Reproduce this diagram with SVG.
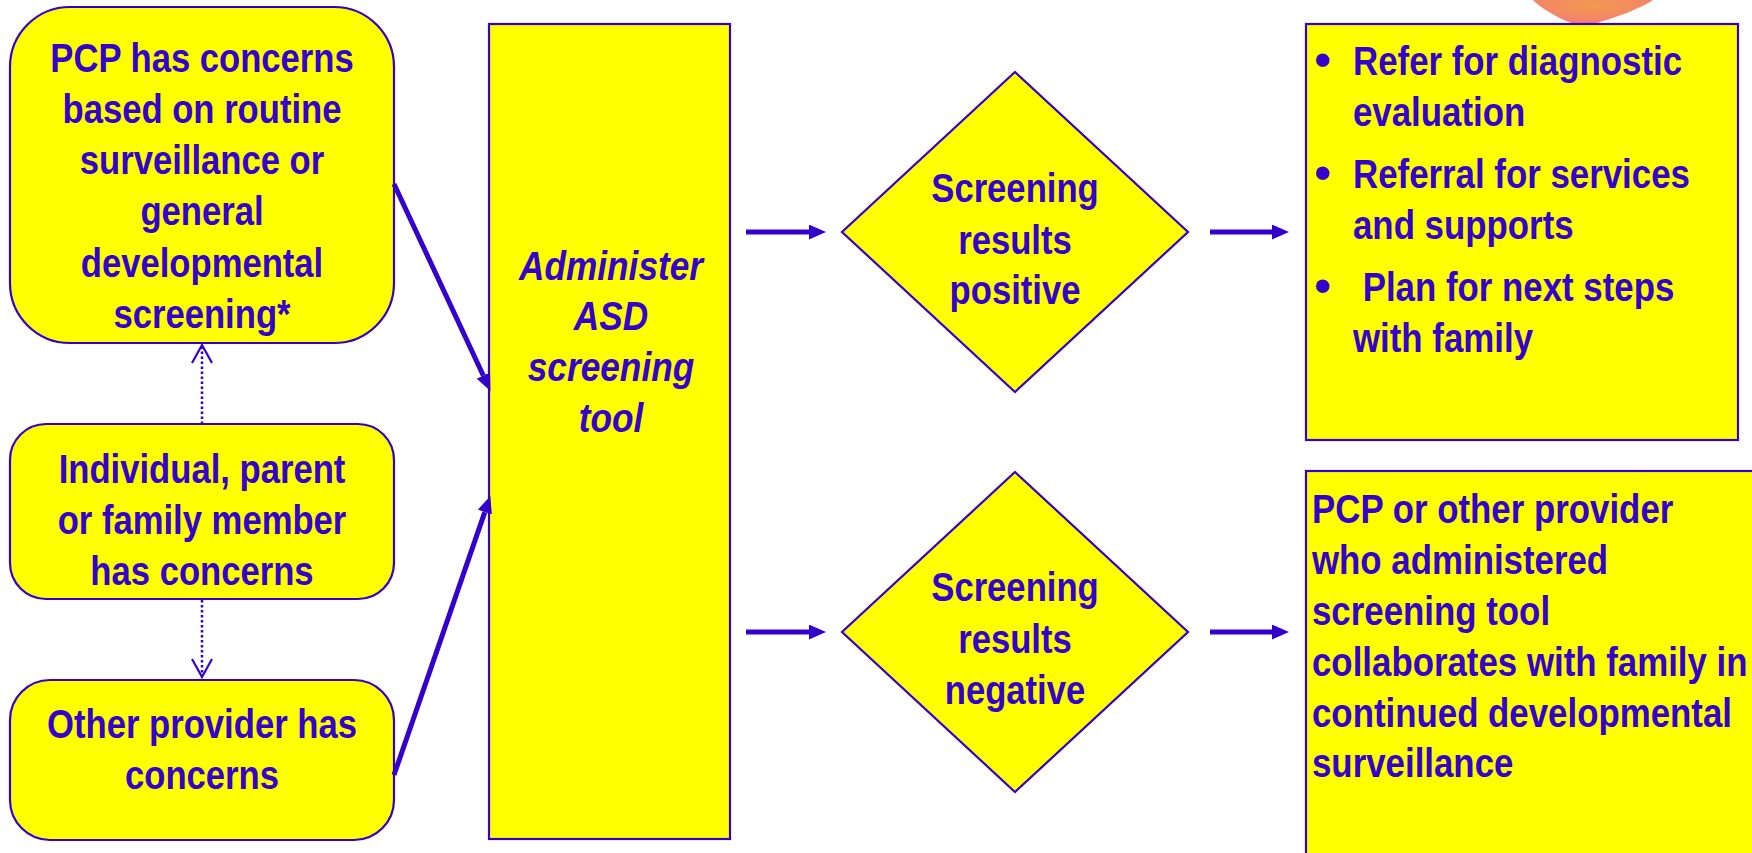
<svg xmlns="http://www.w3.org/2000/svg" width="1752" height="853" viewBox="0 0 1752 853">
<defs>
<style>
.box{fill:#FFFF00;stroke:#3300CC;stroke-width:2.2}
.t{font-family:"Liberation Sans Narrow","Liberation Sans",Arial,sans-serif;font-weight:bold;font-size:41px;fill:#3300CC}
.b{font-family:"Liberation Sans",Arial,sans-serif;font-size:50px;fill:#3300CC}
.c{text-anchor:middle}
.it{font-style:italic}
.conn{stroke:#3300CC;stroke-width:5;fill:none}
.dot{stroke:#3300CC;stroke-width:2.5;fill:none;stroke-dasharray:2.5 2.5}
.open{stroke:#3300CC;stroke-width:2.2;fill:none}
</style>
<marker id="ah" viewBox="0 0 16 14" refX="0" refY="7" markerWidth="17" markerHeight="15" markerUnits="userSpaceOnUse" orient="auto">
<path d="M0,0 L16,7 L0,14 z" fill="#3300CC"/>
</marker>
<radialGradient id="blob" cx="0.5" cy="0.2" r="0.7">
<stop offset="0" stop-color="#F29A50"/>
<stop offset="1" stop-color="#F47C72"/>
</radialGradient>
</defs>
<rect width="1752" height="853" fill="#FFFFFF"/>
<path d="M1533,0 C1542,10 1566,22 1582,27 C1610,20 1640,9 1653,0 Z" fill="url(#blob)"/>

<g id="pcp">
<rect class="box" x="10" y="7" width="384" height="336" rx="60" ry="60"/>
<g transform="matrix(0.845 0 0 1 202 0)">
<text class="t c" x="0" y="72">PCP has concerns</text>
<text class="t c" x="0" y="123">based on routine</text>
<text class="t c" x="0" y="174">surveillance or</text>
<text class="t c" x="0" y="225">general</text>
<text class="t c" x="0" y="277">developmental</text>
<text class="t c" x="0" y="328">screening*</text>
</g>
</g>
<g id="individual">
<rect class="box" x="10" y="424" width="384" height="175" rx="36" ry="36"/>
<g transform="matrix(0.845 0 0 1 202 0)">
<text class="t c" x="0" y="483">Individual, parent</text>
<text class="t c" x="0" y="534">or family member</text>
<text class="t c" x="0" y="585">has concerns</text>
</g>
</g>
<g id="other">
<rect class="box" x="10" y="680" width="384" height="160" rx="40" ry="40"/>
<g transform="matrix(0.845 0 0 1 202 0)">
<text class="t c" x="0" y="738">Other provider has</text>
<text class="t c" x="0" y="789">concerns</text>
</g>
</g>
<g id="administer">
<rect class="box" x="489" y="24" width="241" height="815"/>
<g transform="matrix(0.86 0 0 1 611 0)">
<text class="t c it" x="0" y="280">Administer</text>
<text class="t c it" x="0" y="330">ASD</text>
<text class="t c it" x="0" y="381">screening</text>
<text class="t c it" x="0" y="432">tool</text>
</g>
</g>
<g id="positive">
<polygon class="box" points="1015,72 1188,232 1015,392 842,232"/>
<g transform="matrix(0.845 0 0 1 1015 0)">
<text class="t c" x="0" y="202">Screening</text>
<text class="t c" x="0" y="254">results</text>
<text class="t c" x="0" y="304">positive</text>
</g>
</g>
<g id="negative">
<polygon class="box" points="1015,472 1188,632 1015,792 842,632"/>
<g transform="matrix(0.845 0 0 1 1015 0)">
<text class="t c" x="0" y="601">Screening</text>
<text class="t c" x="0" y="653">results</text>
<text class="t c" x="0" y="704">negative</text>
</g>
</g>
<g id="refer">
<rect class="box" x="1306" y="24" width="432" height="416"/>
<text class="b" x="1314" y="77">•</text>
<text class="b" x="1314" y="190">•</text>
<text class="b" x="1314" y="303">•</text>
<g transform="matrix(0.85 0 0 1 1353 0)">
<text class="t" x="0" y="75">Refer for diagnostic</text>
<text class="t" x="0" y="126">evaluation</text>
<text class="t" x="0" y="188">Referral for services</text>
<text class="t" x="0" y="239">and supports</text>
<text class="t" x="0" y="301" xml:space="preserve"> Plan for next steps</text>
<text class="t" x="0" y="352">with family</text>
</g>
</g>
<g id="collaborate">
<rect class="box" x="1306" y="471" width="460" height="400"/>
<g transform="matrix(0.85 0 0 1 1312 0)">
<text class="t" x="0" y="523">PCP or other provider</text>
<text class="t" x="0" y="574">who administered</text>
<text class="t" x="0" y="625">screening tool</text>
<text class="t" x="0" y="676">collaborates with family in</text>
<text class="t" x="0" y="727">continued developmental</text>
<text class="t" x="0" y="777">surveillance</text>
</g>
</g>
<g id="connectors">
<line class="conn" x1="394" y1="184" x2="483.3" y2="375.5" marker-end="url(#ah)"/>
<line class="conn" x1="394" y1="775" x2="484.8" y2="512.1" marker-end="url(#ah)"/>
<line class="conn" x1="746" y1="232" x2="809" y2="232" marker-end="url(#ah)"/>
<line class="conn" x1="746" y1="632" x2="809" y2="632" marker-end="url(#ah)"/>
<line class="conn" x1="1210" y1="232" x2="1272" y2="232" marker-end="url(#ah)"/>
<line class="conn" x1="1210" y1="632" x2="1272" y2="632" marker-end="url(#ah)"/>
<line class="dot" x1="202" y1="424" x2="202" y2="347"/>
<polyline class="open" points="192,363 202,345 212,363"/>
<line class="dot" x1="202" y1="600" x2="202" y2="675"/>
<polyline class="open" points="192,659 202,677 212,659"/>
</g>
</svg>
